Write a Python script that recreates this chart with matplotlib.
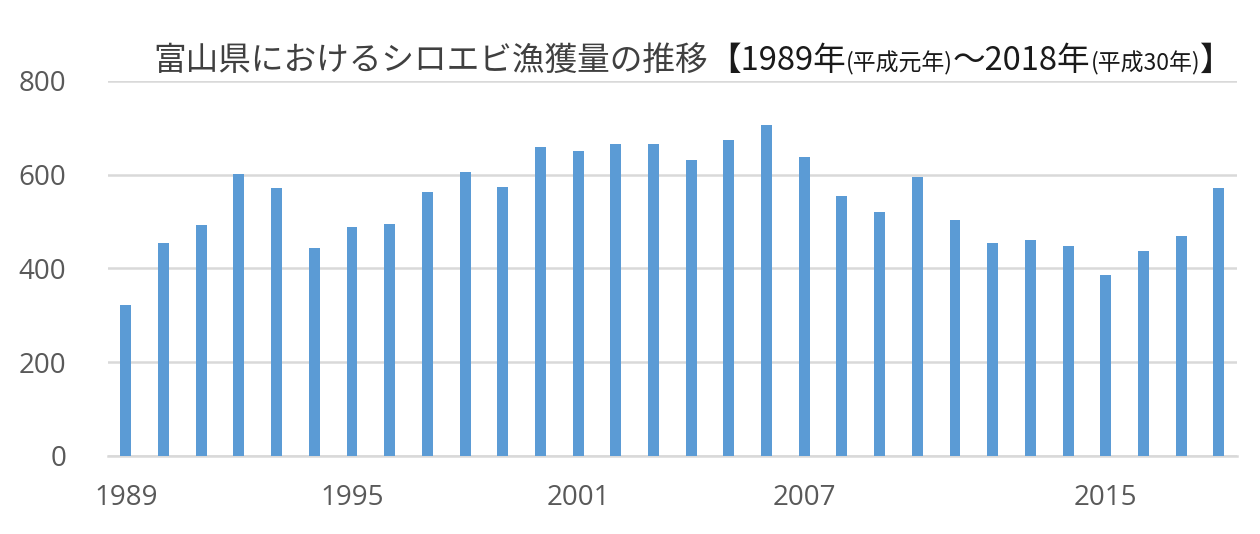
import numpy as np
import matplotlib
matplotlib.use('Agg')
import matplotlib.pyplot as plt

years = list(range(1989, 2019))
catch = [322, 453, 492, 602, 571, 444, 488, 495, 562, 606,
         574, 658, 650, 665, 665, 630, 673, 705, 638, 555,
         520, 595, 503, 453, 460, 448, 385, 436, 468, 571]
label_years = [1989, 1995, 2001, 2007, 2015]
yticks = [0, 200, 400, 600, 800]

plt.rcParams['font.family'] = ['Noto Sans CJK JP', 'DejaVu Sans']

fig = plt.figure(figsize=(12.6, 5.34), dpi=100)
ax = fig.add_axes([0.0855, 0.1461, 0.9817 - 0.0855, 0.8489 - 0.1461])

x = np.arange(len(years))
ax.bar(x, catch, width=0.29, color='#5B9BD5', zorder=3)

ax.set_xlim(-0.48, len(years) - 0.52)
ax.set_ylim(0, 800)
ax.set_yticks(yticks)
ax.set_yticklabels([str(v) for v in yticks], family='Open Sans', fontsize=20, color='#595959')
ax.set_xticks([years.index(y) for y in label_years])
ax.set_xticklabels([str(y) for y in label_years], family='Open Sans', fontsize=20, color='#595959')
ax.tick_params(axis='both', length=0)
ax.tick_params(axis='y', pad=30)
ax.tick_params(axis='x', pad=20)

ax.grid(axis='y', color='#d9d9d9', linewidth=1.8, zorder=0)
for s in ['top', 'right', 'left']:
    ax.spines[s].set_visible(False)
ax.spines['bottom'].set_color('#d9d9d9')
ax.spines['bottom'].set_linewidth(1.8)

# title built from pieces on one baseline so the parentheses can be smaller
parts = [('富山県におけるシロエビ漁獲量の推移', 23.5, '#404040'),
         ('【1989年', 23.5, '#1a1a1a'),
         ('(平成元年)', 16.5, '#1a1a1a'),
         ('～2018年', 23.5, '#1a1a1a'),
         ('(平成30年)', 16.5, '#1a1a1a'),
         ('】', 23.5, '#1a1a1a')]
renderer = fig.canvas.get_renderer()
xpos = 0.122
for txt, fs, col in parts:
    t = fig.text(xpos, 0.869, txt, fontsize=fs, color=col, va='baseline', ha='left')
    bb = t.get_window_extent(renderer=renderer)
    xpos = fig.transFigure.inverted().transform((bb.x1, 0))[0]

fig.savefig('out.png', dpi=100)
